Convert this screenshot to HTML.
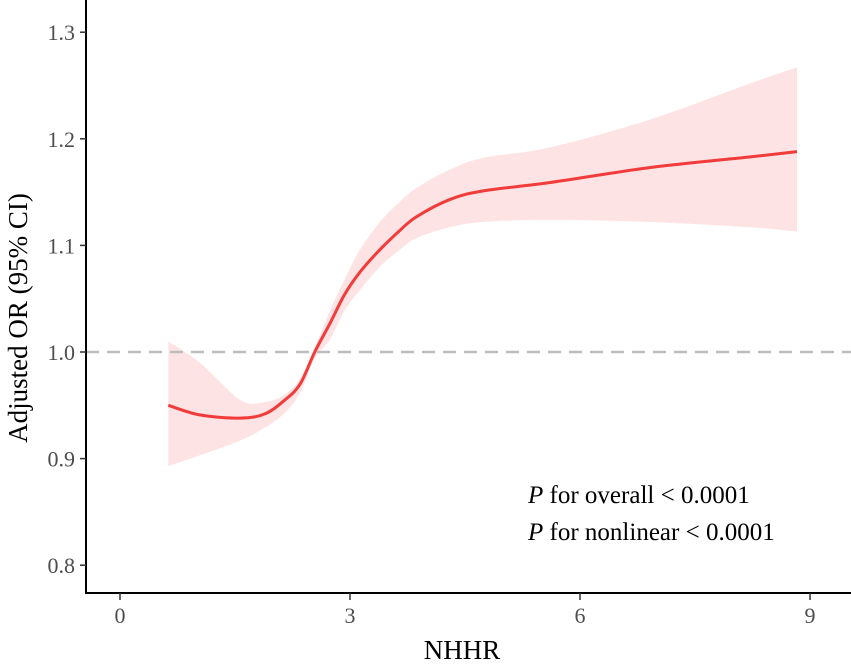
<!DOCTYPE html>
<html><head><meta charset="utf-8"><style>
body{margin:0;background:#fff;}
svg text{font-family:"Liberation Serif",serif;}
</style></head><body>
<svg id="chart" width="851" height="663" viewBox="0 0 851 663" xmlns="http://www.w3.org/2000/svg">
<g id="band"></g>
<line x1="86" x2="851" y1="352" y2="352" stroke="#bdbdbd" stroke-width="2.5" stroke-dasharray="13,8"/>
<g id="fitline"></g>
<line x1="86" x2="86" y1="0" y2="594" stroke="#000" stroke-width="2"/>
<line x1="85" x2="851" y1="593" y2="593" stroke="#000" stroke-width="2"/>
<g id="yticks"></g>
<g id="xticks"></g>
<text x="462" y="659" font-size="27" text-anchor="middle" fill="#000">NHHR</text>
<text transform="translate(27,318) rotate(-90)" font-size="27" text-anchor="middle" fill="#000">Adjusted OR (95% CI)</text>
<text x="528" y="503" font-size="25" fill="#000"><tspan font-style="italic">P</tspan> for overall &lt; 0.0001</text>
<text x="528" y="540" font-size="25" fill="#000"><tspan font-style="italic">P</tspan> for nonlinear &lt; 0.0001</text>
</svg>
<script>
const xs=[0.63,1.04,1.57,1.89,2.15,2.35,2.54,2.74,2.93,3.13,3.39,3.65,3.87,4.30,4.73,5.61,6.91,8.22,8.83];
const fit=[0.950,0.941,0.938,0.942,0.955,0.970,1.000,1.027,1.054,1.075,1.096,1.114,1.127,1.143,1.151,1.159,1.173,1.183,1.188];
const upper=[1.010,0.990,0.955,0.953,0.960,0.975,1.004,1.039,1.068,1.096,1.122,1.141,1.154,1.171,1.182,1.192,1.218,1.252,1.267];
const lower=[0.893,0.903,0.917,0.929,0.943,0.962,0.994,1.012,1.039,1.058,1.080,1.096,1.107,1.117,1.122,1.124,1.122,1.117,1.113];
const yTicks=[0.8,0.9,1.0,1.1,1.2,1.3];
const yTickLabels=["0.8","0.9","1.0","1.1","1.2","1.3"];
const xTicks=[0,3,6,9];
const xTickLabels=["0","3","6","9"];
const NS="http://www.w3.org/2000/svg";
const sx=v=>120+v*76.67;
const sy=v=>352-(v-1.0)*1066;
function cat(pts,move){let d=move?`M${pts[0][0]},${pts[0][1]}`:`L${pts[0][0]},${pts[0][1]}`;
for(let i=0;i<pts.length-1;i++){const p0=pts[Math.max(0,i-1)],p1=pts[i],p2=pts[i+1],p3=pts[Math.min(pts.length-1,i+2)];
d+=` C${p1[0]+(p2[0]-p0[0])/6},${p1[1]+(p2[1]-p0[1])/6} ${p2[0]-(p3[0]-p1[0])/6},${p2[1]-(p3[1]-p1[1])/6} ${p2[0]},${p2[1]}`;}return d;}
const up=xs.map((x,i)=>[sx(x),sy(upper[i])]);
const lo=xs.map((x,i)=>[sx(x),sy(lower[i])]).reverse();
const band=document.createElementNS(NS,'path');


band.setAttribute('d',cat(up,true)+' '+cat(lo,false)+' Z');
band.setAttribute('fill','#fde3e3');
document.getElementById('band').appendChild(band);
const line=document.createElementNS(NS,'path');


line.setAttribute('d',cat(xs.map((x,i)=>[sx(x),sy(fit[i])]),true));
line.setAttribute('fill','none');line.setAttribute('stroke','#f23b3b');line.setAttribute('stroke-width','3');
document.getElementById('fitline').appendChild(line);
const yg=document.getElementById('yticks');
yTicks.forEach((v,i)=>{const t=document.createElementNS(NS,'line');


t.setAttribute('x1',80);t.setAttribute('x2',86);t.setAttribute('y1',sy(v));t.setAttribute('y2',sy(v));t.setAttribute('stroke','#333');t.setAttribute('stroke-width','1.5');yg.appendChild(t);
const l=document.createElementNS(NS,'text');


l.setAttribute('x',75);l.setAttribute('y',sy(v)+8);l.setAttribute('text-anchor','end');l.setAttribute('font-size','22');l.setAttribute('fill','#4d4d4d');l.textContent=yTickLabels[i];yg.appendChild(l);});
const xg=document.getElementById('xticks');
xTicks.forEach((v,i)=>{const t=document.createElementNS(NS,'line');


t.setAttribute('x1',sx(v));t.setAttribute('x2',sx(v));t.setAttribute('y1',593);t.setAttribute('y2',600);t.setAttribute('stroke','#333');t.setAttribute('stroke-width','1.5');xg.appendChild(t);
const l=document.createElementNS(NS,'text');


l.setAttribute('x',sx(v));l.setAttribute('y',623);l.setAttribute('text-anchor','middle');l.setAttribute('font-size','22');l.setAttribute('fill','#4d4d4d');l.textContent=xTickLabels[i];xg.appendChild(l);});
</script>
</body></html>
